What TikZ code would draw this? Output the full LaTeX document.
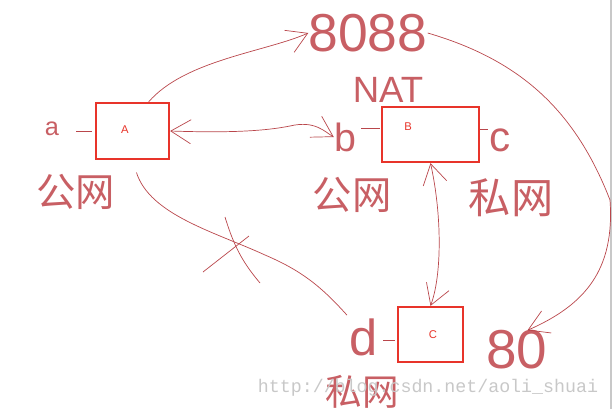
\documentclass[tikz,border=0pt]{standalone}
\usepackage{fontspec}
\setmainfont{Liberation Sans}
\setmonofont{Liberation Mono}
\newfontfamily\cjk{Noto Sans CJK SC}
\usepackage{xcolor}
\usetikzlibrary{arrows.meta, calc, positioning}

\definecolor{ink}{RGB}{185,70,75}
\definecolor{inklight}{RGB}{200,95,100}
\definecolor{boxred}{RGB}{232,52,42}
\definecolor{wmgray}{RGB}{200,200,200}

\tikzset{
  >={Straight Barb[length=5mm,width=6mm,line width=0.5pt]},
  sketch/.style={draw=ink, line width=0.5pt},
  hostbox/.style={draw=boxred, line width=1.6pt, fill=white, inner sep=0pt},
  hand/.style={text=inklight, inner sep=0pt},
  tag/.style={text=boxred, font=\fontsize{8}{8}\selectfont}
}

\begin{document}
\begin{tikzpicture}[x=0.025cm, y=-0.025cm]
  \useasboundingbox (0,0) rectangle (613,409);
  \draw[wmgray, line width=0.8pt] (611,0) -- (611,409);

  % the three hosts
  \node[hostbox, minimum width=1.825cm, minimum height=1.4cm] (boxA) at (132.5,131) {};
  \node[tag] (tagA) at (125,130) {A};
  \node[hostbox, minimum width=2.425cm, minimum height=1.375cm] (boxB) at (430.5,134.5) {};
  \node[tag] (tagB) at (408,127) {B};
  \node[hostbox, minimum width=1.625cm, minimum height=1.375cm] (boxC) at (430.5,334.5) {};
  \node[tag] (tagC) at (433,335) {C};

  % handwriting
  \node[hand, font=\fontsize{38}{38}\selectfont] (ip8088) at (368,33) {8088};
  \node[hand, font=\fontsize{26}{26}\selectfont] (nat) at (388,90) {NAT};
  \node[hand, font=\fontsize{39}{39}\selectfont] (port80) at (517,350) {80};
  \node[hand, font=\fontsize{18}{18}\selectfont] (portA) at (52,129) {a};
  \node[hand, font=\fontsize{28}{28}\selectfont] (portB) at (345,137) {b};
  \node[hand, font=\fontsize{30}{30}\selectfont] (portC) at (500,140) {c};
  \node[hand, font=\fontsize{36}{36}\selectfont] (portD) at (364,337) {d};
  \node[hand, font=\cjk\fontsize{28}{28}\selectfont] (netA) at (76,192) {公网};
  \node[hand, font=\cjk\fontsize{28}{28}\selectfont] (netB) at (352,195) {公网};
  \node[hand, font=\cjk\fontsize{30}{30}\selectfont] (netC) at (511,198) {私网};
  \node[hand, font=\cjk\fontsize{26}{26}\selectfont] (netD) at (362,392) {私网};

  % port ticks
  \draw[sketch] ($(boxA.west)+(-3,0)$) -- ++(-16,0);
  \draw[sketch] ($(boxB.west)+(-1,-6)$) -- ++(-19,0);
  \draw[sketch] ($(boxB.east)+(0,-5)$) -- ++(8,0);
  \draw[sketch] ($(boxC.west)+(-2,6)$) -- ++(-12,0);

  % connections
  \draw[sketch, ->] (boxA.61) .. controls (185,60) and (265,52) .. (ip8088.west);
  \draw[sketch, <->] (boxA.east) .. controls (230,133) and (265,131) .. (290,126)
    .. controls (315,120) and (325,132) .. (portB.west);
  \draw[sketch, <->] (boxB.south) .. controls (442,215) and (442,275) .. (boxC.north);
  \draw[sketch, ->] (ip8088.east) .. controls (520,60) and (575,110) .. (610,200)
    .. controls (615,270) and (585,305) .. (port80.62);
  \draw[sketch, shorten <=13*0.025cm, shorten >=4*0.025cm] (boxA.south)
    .. controls (150,215) and (215,232) .. (265,255)
    .. controls (300,270) and (320,285) .. (portD.north west);

  % crossed out
  \draw[sketch] (203,272) -- (249,236);
  \draw[sketch] (225,217) .. controls (235,250) and (245,265) .. (260,283);

  \node[text=wmgray, font=\ttfamily\fontsize{13}{13}\selectfont, anchor=east] (watermark) at (603,388)
    {http://blog.csdn.net/aoli\_shuai};
\end{tikzpicture}
\end{document}
